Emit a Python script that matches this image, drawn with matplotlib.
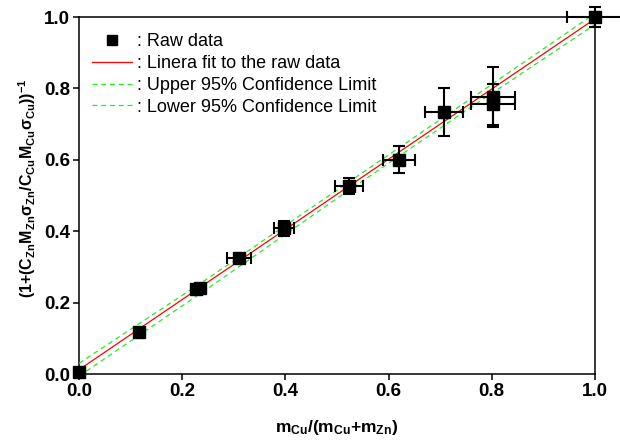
import numpy as np
import matplotlib
matplotlib.use("Agg")
import matplotlib.pyplot as plt
from matplotlib.lines import Line2D

plt.rcParams['font.family'] = ['Liberation Sans', 'DejaVu Sans']
plt.rcParams['mathtext.fontset'] = 'custom'
plt.rcParams['mathtext.rm'] = 'Liberation Sans:bold'
plt.rcParams['mathtext.it'] = 'Liberation Sans:bold'
plt.rcParams['mathtext.bf'] = 'Liberation Sans:bold'

# raw data
x_raw = [0.0, 0.117, 0.227, 0.235, 0.310, 0.397, 0.523, 0.620, 0.707, 0.802, 0.802, 1.0]
y_raw = [0.005, 0.118, 0.237, 0.241, 0.325, 0.408, 0.527, 0.600, 0.734, 0.776, 0.755, 1.0]
x_err = [0.0, 0.006, 0.008, 0.008, 0.024, 0.020, 0.027, 0.031, 0.037, 0.042, 0.042, 0.055]
y_err = [0.0, 0.008, 0.006, 0.006, 0.010, 0.022, 0.023, 0.038, 0.066, 0.085, 0.058, 0.028]

# linear fit and 95% confidence limits
fit_x = [0.0, 1.0]
fit_y = [0.012, 0.995]
band_x = [0.0, 0.25, 0.5, 0.75, 1.0]
band_upper = [0.030, 0.268, 0.515, 0.762, 1.010]
band_lower = [-0.006, 0.240, 0.492, 0.738, 0.979]

fig = plt.figure(figsize=(6.2, 4.42), dpi=100)
ax = fig.add_axes([0.1274, 0.1538, 0.8323, 0.8077])

ax.plot(fit_x, fit_y, color='red', lw=0.9, zorder=3)
ax.plot(band_x, band_upper, color='#22ee22', lw=0.9, ls=(0, (4, 3)), zorder=3)
ax.plot(band_x, band_lower, color='#22ee22', lw=0.9, ls=(0, (4, 3)), zorder=3)

ax.errorbar(x_raw, y_raw, xerr=x_err, yerr=y_err, fmt='none', ecolor='black',
            elinewidth=1.5, capsize=4.5, capthick=1.5, zorder=4, clip_on=False)
ax.plot(x_raw, y_raw, 's', color='black', ms=8.5, zorder=5, clip_on=False)

ax.set_xlim(0, 1.0)
ax.set_ylim(0, 1.0)
ax.set_xticks([0.0, 0.2, 0.4, 0.6, 0.8, 1.0])
ax.set_yticks([0.0, 0.2, 0.4, 0.6, 0.8, 1.0])
ax.tick_params(direction='out', length=4.5, width=1.1, labelsize=13.5, pad=2)
for lab in ax.get_xticklabels() + ax.get_yticklabels():
    lab.set_fontweight('bold')
for s in ax.spines.values():
    s.set_linewidth(1.1)

ax.set_xlabel(r'$\mathbf{m_{Cu}/(m_{Cu}{+}m_{Zn})}$', fontsize=12.5, labelpad=13)
ax.set_ylabel(r'$\mathbf{(1{+}(C_{Zn}M_{Zn}\sigma_{Zn}/C_{Cu}M_{Cu}\sigma_{Cu}))^{-1}}$',
              fontsize=11.5)
ax.yaxis.set_label_coords(-0.079, 0.52)

handles = [
    Line2D([], [], marker='s', color='black', ls='none', ms=7),
    Line2D([], [], color='red', lw=0.9),
    Line2D([], [], color='#22ee22', lw=0.9, ls=(0, (4, 3))),
    Line2D([], [], color='#22ee22', lw=0.9, ls=(0, (4, 3))),
]
labels = [': Raw data', ': Linera fit to the raw data',
          ': Upper 95% Confidence Limit', ': Lower 95% Confidence Limit']
ax.legend(handles, labels, loc='upper left', frameon=False, fontsize=13,
          handlelength=2.2, handletextpad=0.28, labelspacing=0.27,
          borderaxespad=0, bbox_to_anchor=(0.012, 0.975))

fig.savefig('out.png', dpi=100)
